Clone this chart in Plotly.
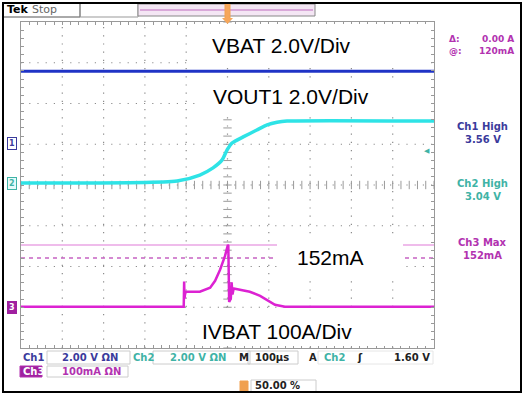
import numpy as np
import plotly.graph_objects as go

# ---------------- data (physical units) ----------------
t_vbat = [-500, 500]                      # µs
v_vbat = [3.52, 3.52]                     # V

t_vout = [-500, -122, -67, -35, -13, -1, 11, 38, 71, 96, 120, 144, 500]
v_vout = [0.0, 0.10, 0.39, 0.74, 1.13, 1.62, 1.96, 2.26, 2.60, 2.85, 2.98, 3.04, 3.04]

t_ibat = [-500, -106, -105, -104, -103, -101, -91, -67, -42, -30, -18, -6, 1, 2,
          4, 8, 10, 12, 15, 30, 54, 79, 96, 115, 139, 500]
i_ibat = [0, 0, 62, 20, 30, 37, 37, 37, 47, 64, 91, 125, 152, 150,
          12, 20, 60, 30, 45, 42, 37, 27, 17, 5, 0, 0]   # mA

cursor_max_mA = 152
cursor_at_mA = 120

# channel settings (scale per div, ground offset in divs)
ch1_scale, ch1_off = 2.0, 1.03
ch2_scale, ch2_off = 2.0, 0.05
ch3_scale, ch3_off = 100.0, -2.99

C1 = "#1f33c6"
C2 = "#2ee3e6"
C3 = "#dc22d2"
NAVY = "#3b3b9c"
TEAL = "#3fb3a6"
MAG = "#b232b0"

def px(x):
    return (x - 21) / 413

def py(y):
    return (348 - y) / 326

fig = go.Figure()

# center cross tick marks (graticule)
fig.add_trace(go.Scatter(x=np.zeros(41), y=np.arange(-4, 4.01, 0.2), mode="markers",
                         marker=dict(symbol="line-ew", size=6, line=dict(color="#9a9a9a", width=1)),
                         hoverinfo="skip", showlegend=False))
fig.add_trace(go.Scatter(x=np.arange(-500, 501, 20), y=np.zeros(51), mode="markers",
                         marker=dict(symbol="line-ns", size=6, line=dict(color="#9a9a9a", width=1)),
                         hoverinfo="skip", showlegend=False))

fig.add_trace(go.Scatter(x=t_vbat, y=[ch1_off + v / ch1_scale for v in v_vbat], mode="lines",
                         line=dict(color=C1, width=3), showlegend=False))
fig.add_trace(go.Scatter(x=t_vout, y=[ch2_off + v / ch2_scale for v in v_vout], mode="lines",
                         line=dict(color=C2, width=3.5, shape="spline", smoothing=0.6), showlegend=False))
fig.add_trace(go.Scatter(x=t_ibat, y=[ch3_off + i / ch3_scale for i in i_ibat], mode="lines",
                         line=dict(color=C3, width=2.5), showlegend=False))

shapes = []
# grid lines (dotted)
for k in range(-4, 5):
    shapes.append(dict(type="line", xref="x", yref="y", x0=k * 100, x1=k * 100, y0=-4, y1=4,
                       line=dict(color="#8c8c8c", width=1.2, dash="1.2px,7px"), layer="below"))
for k in range(-3, 4):
    shapes.append(dict(type="line", xref="x", yref="y", x0=-500, x1=500, y0=k, y1=k,
                       line=dict(color="#8c8c8c", width=1.2, dash="1.2px,7px"), layer="below"))
# cursor lines
yc1 = ch3_off + cursor_max_mA / ch3_scale
yc2 = ch3_off + cursor_at_mA / ch3_scale
shapes.append(dict(type="line", xref="x", yref="y", x0=-500, x1=500, y0=yc1, y1=yc1,
                   line=dict(color="#eaa6e4", width=1.5), layer="below"))
shapes.append(dict(type="line", xref="x", yref="y", x0=-500, x1=500, y0=yc2, y1=yc2,
                   line=dict(color="#c663c2", width=1.5, dash="4px,4px"), layer="below"))

# white label boxes
def wbox(x0, x1, y0, y1):
    shapes.append(dict(type="rect", xref="paper", yref="paper", x0=px(x0), x1=px(x1),
                       y0=py(y1), y1=py(y0), fillcolor="white", line=dict(width=0), layer="above"))
wbox(193, 430, 24, 66)
wbox(195, 430, 78, 113)
wbox(277, 403, 238, 278)
wbox(195, 431, 313, 346)

# top bar elements
def rect(x0, x1, y0, y1, color="#999", fill="rgba(0,0,0,0)", w=1):
    shapes.append(dict(type="rect", xref="paper", yref="paper", x0=px(x0), x1=px(x1),
                       y0=py(y1), y1=py(y0), fillcolor=fill, line=dict(color=color, width=w), layer="above"))
rect(3, 80, 3, 17, color="#555")
rect(80, 138, 3, 17, color="#999")
rect(138, 315, 4, 16, color="#888", fill="#f4e6f4")
shapes.append(dict(type="line", xref="paper", yref="paper", x0=px(140), x1=px(313), y0=py(10), y1=py(10),
                   line=dict(color="#d9a8d9", width=2), layer="above"))
# trigger position marker
rect(225, 230, 4, 19, color="#f0a050", fill="#f6a65a")
shapes.append(dict(type="path", xref="paper", yref="paper",
                   path=f"M {px(222)} {py(18)} L {px(233)} {py(18)} L {px(227.5)} {py(24)} Z",
                   fillcolor="#f6a65a", line=dict(width=0), layer="above"))
# bottom boxes
rect(47, 130, 351, 364, color="#cccccc")
rect(153, 250, 351, 364, color="#cccccc")
rect(248, 298, 351, 364, color="#cccccc")
rect(318, 433, 351, 364, color="#e6e6e6")
rect(47, 128, 366, 377, color="#cccccc")
rect(20, 42, 366, 377, color=MAG, fill="#a020a0")
rect(251, 316, 380, 392, color="#cccccc")
rect(240, 248, 381, 391, color="#f0a050", fill="#f0a050")
# outer frame
rect(3, 521, 3, 392, color="#000", w=2)

annotations = []
def txt(x, y, s, size=11, color="#000", family="Liberation Sans", xanchor="left", bold=False, bg=None, bc=None):
    a = dict(x=px(x), y=py(y), xref="paper", yref="paper", text=(f"<b>{s}</b>" if bold else s),
             showarrow=False, xanchor=xanchor, yanchor="middle",
             font=dict(size=size, color=color, family=family))
    if bg:
        a["bgcolor"] = bg
    if bc:
        a["bordercolor"] = bc
        a["borderwidth"] = 1
        a["borderpad"] = 1
    annotations.append(a)

txt(210, 45, "VBAT 2.0V/Div", size=21)
txt(211, 96, "VOUT1 2.0V/Div", size=21)
txt(295, 257, "152mA", size=21)
txt(200, 331, "IVBAT 100A/Div", size=21)

F = "DejaVu Sans"
txt(5, 9, "Tek", size=11, bold=True, family=F)
txt(30, 9, "Stop", size=11, color="#666", family=F)
txt(447, 39, "Δ:", size=9, color=MAG, family=F, bold=True)
txt(447, 51, "@:", size=9, color=MAG, family=F, bold=True)
txt(516, 39, "0.00 A", size=9, color=MAG, family=F, bold=True, xanchor="right")
txt(516, 51, "120mA", size=9, color=MAG, family=F, bold=True, xanchor="right")
txt(483, 126, "Ch1 High", size=10, color=NAVY, family=F, bold=True, xanchor="center")
txt(483, 139, "3.56 V", size=10, color=NAVY, family=F, bold=True, xanchor="center")
txt(483, 183, "Ch2 High", size=10, color=TEAL, family=F, bold=True, xanchor="center")
txt(483, 196, "3.04 V", size=10, color=TEAL, family=F, bold=True, xanchor="center")
txt(483, 242, "Ch3 Max", size=10, color=MAG, family=F, bold=True, xanchor="center")
txt(483, 255, "152mA", size=10, color=MAG, family=F, bold=True, xanchor="center")

txt(21, 357, "Ch1", size=10, color=NAVY, family=F, bold=True)
txt(60, 357, "2.00 V ΩN", size=10, color=NAVY, family=F, bold=True)
txt(131, 357, "Ch2", size=10, color=TEAL, family=F, bold=True)
txt(168, 357, "2.00 V ΩN", size=10, color=TEAL, family=F, bold=True)
txt(237, 357, "M", size=10, color="#222", family=F, bold=True)
txt(253, 357, "100µs", size=10, color="#222", family=F, bold=True)
txt(307, 357, "A", size=10, color="#222", family=F, bold=True)
txt(322, 357, "Ch2", size=10, color=TEAL, family=F, bold=True)
txt(355, 357, "ʃ", size=10, color="#222", family=F, bold=True)
txt(432, 357, "1.60 V", size=10, color="#222", family=F, bold=True, xanchor="right")
txt(21, 371, "Ch3", size=10, color="white", family=F, bold=True)
txt(60, 371, "100mA ΩN", size=10, color=MAG, family=F, bold=True)
txt(253, 385, "50.00 %", size=10, color="#222", family=F, bold=True)

# channel ground markers on the left
txt(12, 143, "1", size=8, color=NAVY, family=F, xanchor="center", bg="white", bc=NAVY, bold=True)
txt(12, 183, "2", size=8, color=TEAL, family=F, xanchor="center", bg="#e6fafa", bc=TEAL, bold=True)
txt(12, 307, "3", size=8, color="white", family=F, xanchor="center", bg="#a020a0", bc="#a020a0", bold=True)
# trigger level arrow
txt(427, 151, "◀", size=7, color=TEAL, family=F, xanchor="center")

fig.update_layout(
    width=524, height=396,
    margin=dict(l=21, r=90, t=22, b=48),
    paper_bgcolor="white", plot_bgcolor="white",
    shapes=shapes, annotations=annotations,
    xaxis=dict(range=[-500, 500], showgrid=False, zeroline=False, showticklabels=False,
               ticks="inside", dtick=20, ticklen=3, tickcolor="#999", showline=True,
               linecolor="#999", linewidth=1, mirror="ticks", fixedrange=True),
    yaxis=dict(range=[-4, 4], showgrid=False, zeroline=False, showticklabels=False,
               ticks="inside", dtick=0.2, ticklen=3, tickcolor="#999", showline=True,
               linecolor="#999", linewidth=1, mirror="ticks", fixedrange=True),
)

fig.write_html("out.html", config={"displayModeBar": False},
               post_script="document.body.style.margin='0';document.body.style.padding='0';")
